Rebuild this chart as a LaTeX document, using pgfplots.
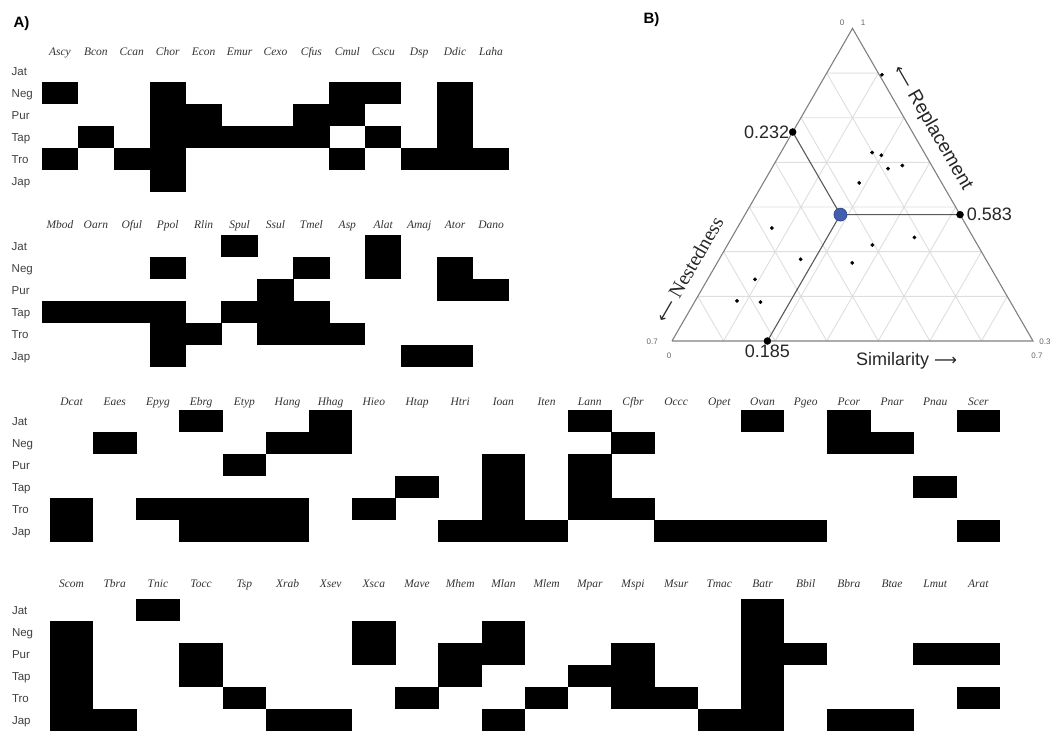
\documentclass[border=0pt]{standalone}
\usepackage{fontspec}
\setmainfont{Liberation Serif}
\setsansfont{Liberation Sans}
\newfontfamily\arr{DejaVu Sans}
\usepackage{pgfplots}
\pgfplotsset{compat=1.18}
\pgfdeclareplotmark{cellA}{\pgfpathrectangle{\pgfqpoint{-18.1pt}{-11.15pt}}{\pgfqpoint{36.2pt}{22.3pt}}\pgfusepathqfill}
\pgfdeclareplotmark{cellB}{\pgfpathrectangle{\pgfqpoint{-21.75pt}{-11.15pt}}{\pgfqpoint{43.5pt}{22.3pt}}\pgfusepathqfill}
\definecolor{meanblue}{RGB}{66,94,176}
\pgfplotsset{
  blk/.style={scale only axis, height=132pt, ymin=-0.5, ymax=5.5, y dir=reverse,
    ytick={0,...,5}, yticklabels={Jat,Neg,Pur,Tap,Tro,Jap},
    axis line style={draw=none}, major tick length=0pt, tick style={draw=none},
    xticklabel pos=upper, clip=false,
    yticklabel style={font=\sffamily\fontsize{11.5}{12}\selectfont, text=black!75, anchor=base west},
    xticklabel style={font=\itshape\fontsize{11.5}{12}\selectfont, text=black!80, anchor=base}},
  /pgfplots/table/tern/.style={/pgfplots/table/x expr={(\thisrow{S}+0.5*(\thisrow{R}-0.3))/0.7},
    /pgfplots/table/y expr={0.8660254*(\thisrow{R}-0.3)/0.7}}
}
\begin{document}
\begin{tikzpicture}
\useasboundingbox (0,0) rectangle (1063pt,-731pt);
\node[anchor=west, font=\sffamily\bfseries\fontsize{15}{16}\selectfont] at (10pt,-24pt) {A)};
\node[anchor=west, font=\sffamily\bfseries\fontsize{15}{16}\selectfont] at (640pt,-20pt) {B)};

% Block 1
\begin{axis}[blk, at={(42pt,-60pt)}, anchor=north west, width=467pt, xmin=-0.5, xmax=12.5,
  xtick={0,...,12}, xticklabels={Ascy,Bcon,Ccan,Chor,Econ,Emur,Cexo,Cfus,Cmul,Cscu,Dsp,Ddic,Laha},
  xticklabel style={yshift=5pt}, yticklabel style={xshift=-33.8pt, yshift=-4.5pt}]
\addplot[only marks, mark=cellA, black] table {
c r
0 1
0 4
1 3
2 4
3 1
3 2
3 3
3 4
3 5
4 2
4 3
5 3
6 3
7 2
7 3
8 1
8 2
8 4
9 1
9 3
10 4
11 1
11 2
11 3
11 4
12 4
};
\end{axis}

% Block 2
\begin{axis}[blk, at={(42pt,-235pt)}, anchor=north west, width=467pt, xmin=-0.5, xmax=12.5,
  xtick={0,...,12}, xticklabels={Mbod,Oarn,Oful,Ppol,Rlin,Spul,Ssul,Tmel,Asp,Alat,Amaj,Ator,Dano},
  xticklabel style={yshift=7pt}, yticklabel style={xshift=-33.8pt, yshift=-4.5pt}]
\addplot[only marks, mark=cellA, black] table {
c r
0 3
1 3
2 3
3 1
3 3
3 4
3 5
4 4
5 0
5 3
6 2
6 3
6 4
7 1
7 3
7 4
8 4
9 0
9 1
10 5
11 1
11 2
11 5
12 2
};
\end{axis}

% Block 3
\begin{axis}[blk, at={(50pt,-410pt)}, anchor=north west, width=950pt, xmin=-0.5, xmax=21.5,
  xtick={0,...,21}, xticklabels={Dcat,Eaes,Epyg,Ebrg,Etyp,Hang,Hhag,Hieo,Htap,Htri,Ioan,Iten,Lann,Cfbr,Occc,Opet,Ovan,Pgeo,Pcor,Pnar,Pnau,Scer},
  xticklabel style={yshift=5pt}, yticklabel style={xshift=-41.5pt, yshift=-4.5pt}]
\addplot[only marks, mark=cellB, black] table {
c r
0 4
0 5
1 1
2 4
3 0
3 4
3 5
4 2
4 4
4 5
5 1
5 4
5 5
6 0
6 1
7 4
8 3
9 5
10 2
10 3
10 4
10 5
11 5
12 0
12 2
12 3
12 4
13 1
13 4
14 5
15 5
16 0
16 5
17 5
18 0
18 1
19 1
20 3
21 0
21 5
};
\end{axis}

% Block 4
\begin{axis}[blk, at={(50pt,-599pt)}, anchor=north west, width=950pt, xmin=-0.5, xmax=21.5,
  xtick={0,...,21}, xticklabels={Scom,Tbra,Tnic,Tocc,Tsp,Xrab,Xsev,Xsca,Mave,Mhem,Mlan,Mlem,Mpar,Mspi,Msur,Tmac,Batr,Bbil,Bbra,Btae,Lmut,Arat},
  xticklabel style={yshift=12pt}, yticklabel style={xshift=-41.5pt, yshift=-4.5pt}]
\addplot[only marks, mark=cellB, black] table {
c r
0 1
0 2
0 3
0 4
0 5
1 5
2 0
3 2
3 3
4 4
5 5
6 5
7 1
7 2
8 4
9 2
9 3
10 1
10 2
10 5
11 4
12 3
13 2
13 3
13 4
14 4
15 5
16 0
16 1
16 2
16 3
16 4
16 5
17 2
18 5
19 5
20 2
21 2
21 4
};
\end{axis}

% Panel B: ternary diagram (Similarity S, Replacement R, Nestedness = 1 - S - R)
\begin{axis}[at={(672pt,-341pt)}, anchor=south west, scale only axis, width=361pt, height=312.6pt,
  xmin=0, xmax=1, ymin=0, ymax=0.8660254, hide axis, clip=false]
% grid
\addplot[black!13, line width=0.9pt, unbounded coords=jump] table {
x y
0.07143 0.12372
0.92857 0.12372
nan nan
0.14286 0.24744
0.85714 0.24744
nan nan
0.21429 0.37115
0.78571 0.37115
nan nan
0.28571 0.49487
0.71429 0.49487
nan nan
0.35714 0.61859
0.64286 0.61859
nan nan
0.42857 0.74231
0.57143 0.74231
nan nan
0.14286 0
0.57143 0.74231
nan nan
0.28571 0
0.64286 0.61859
nan nan
0.42857 0
0.71429 0.49487
nan nan
0.57143 0
0.78571 0.37115
nan nan
0.71429 0
0.85714 0.24744
nan nan
0.85714 0
0.92857 0.12372
nan nan
0.42857 0.74231
0.85714 0
nan nan
0.35714 0.61859
0.71429 0
nan nan
0.28571 0.49487
0.57143 0
nan nan
0.21429 0.37115
0.42857 0
nan nan
0.14286 0.24744
0.28571 0
nan nan
0.07143 0.12372
0.14286 0
};
% triangle
\addplot[black!50, line width=1.1pt] coordinates {(0,0) (1,0) (0.5,0.8660254) (0,0)};
% mean partition lines
\addplot[black!65, line width=1.1pt] table[tern] {
S R
0 0.768
0.185 0.583
0.417 0.583
};
\addplot[black!65, line width=1.1pt] table[tern] {
S R
0.185 0.583
0.185 0.3
};
% pairwise points
\addplot[only marks, mark=*, mark size=1.7pt, black] table[tern] {
S R
0.109 0.896
0.177 0.722
0.198 0.716
0.226 0.686
0.250 0.693
0.186 0.654
0.067 0.553
0.354 0.532
0.281 0.515
0.158 0.483
0.262 0.475
0.092 0.438
0.081 0.390
0.128 0.387
};
% axis intercepts
\addplot[only marks, mark=*, mark size=3.5pt, black] table[tern] {
S R
0 0.768
0.417 0.583
0.185 0.3
};
% mean
\addplot[only marks, mark=*, mark size=6.5pt, mark options={fill=meanblue, draw=meanblue!70!black, line width=0.6pt}] table[tern] {
S R
0.185 0.583
};
\node[anchor=east, font=\sffamily\fontsize{18}{20}\selectfont, text=black!85] at (axis cs:0.3343,0.5790) {0.232};
\node[anchor=west, font=\sffamily\fontsize{18}{20}\selectfont, text=black!85] at (axis cs:0.8070,0.3501) {0.583};
\node[anchor=north, font=\sffamily\fontsize{18}{20}\selectfont, text=black!85] at (axis cs:0.2643,0) {0.185};
\node[anchor=west, font=\sffamily\fontsize{18}{20}\selectfont, text=black!85] at (axis cs:0.500,-0.055) {Similarity {\arr\fontsize{16}{18}\selectfont ⟶}};
\node[rotate=-60, font=\sffamily\fontsize{19}{20}\selectfont, text=black!85] at (axis cs:0.722,0.590) {{\arr\fontsize{16}{18}\selectfont ⟵} Replacement};
\node[rotate=60, font=\fontsize{20}{22}\selectfont, text=black!85] at (axis cs:0.047,0.199) {{\arr\fontsize{16}{18}\selectfont ⟵} Nestedness};
\node[font=\sffamily\fontsize{8}{9}\selectfont, text=black!60] at (axis cs:0.471,0.881) {0};
\node[font=\sffamily\fontsize{8}{9}\selectfont, text=black!60] at (axis cs:0.529,0.881) {1};
\node[font=\sffamily\fontsize{8}{9}\selectfont, text=black!60] at (axis cs:-0.055,-0.003) {0.7};
\node[font=\sffamily\fontsize{8}{9}\selectfont, text=black!60] at (axis cs:-0.008,-0.042) {0};
\node[font=\sffamily\fontsize{8}{9}\selectfont, text=black!60] at (axis cs:1.033,-0.003) {0.3};
\node[font=\sffamily\fontsize{8}{9}\selectfont, text=black!60] at (axis cs:1.011,-0.042) {0.7};
\end{axis}
\end{tikzpicture}
\end{document}
